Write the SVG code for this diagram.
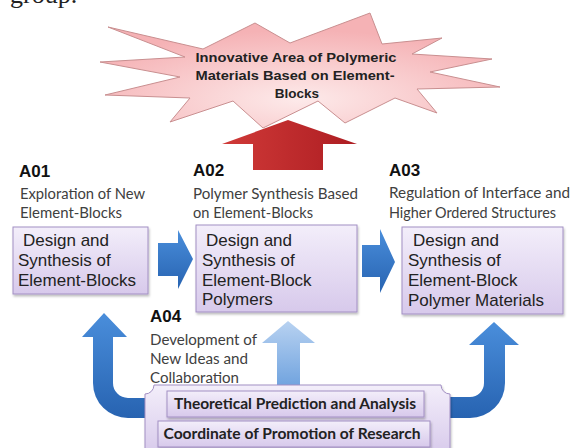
<svg xmlns="http://www.w3.org/2000/svg" width="573" height="448" viewBox="0 0 573 448">
<style>
.lab{font-family:"Liberation Sans",Arial,sans-serif;font-weight:bold;font-size:17px;fill:#111}
.sub{font-family:Lato,"Liberation Sans",sans-serif;font-size:14.5px;fill:#404040}
.bx{font-family:"Liberation Sans",Arial,sans-serif;font-size:17px;fill:#222}
.star{font-family:"Liberation Sans",Arial,sans-serif;font-weight:bold;font-size:13.5px;fill:#222}
.bb{font-family:Lato,"Liberation Sans",sans-serif;font-weight:bold;font-size:15.5px;fill:#222}
.box{fill:url(#lav);stroke:#a28fc3;stroke-width:1;filter:url(#sh)}
.blue{fill:url(#blu)}
</style>
<defs>
<linearGradient id="lav" x1="0" y1="0" x2="0" y2="1"><stop offset="0" stop-color="#f3eefa"/><stop offset="1" stop-color="#d7c9eb"/></linearGradient>
<linearGradient id="blu" x1="0" y1="0" x2="0" y2="1"><stop offset="0" stop-color="#4a8edb"/><stop offset="1" stop-color="#2763b1"/></linearGradient>
<linearGradient id="lblu" x1="0" y1="0" x2="0" y2="1"><stop offset="0" stop-color="#b8d2f1"/><stop offset="1" stop-color="#6a9fdd"/></linearGradient>
<linearGradient id="red" x1="0" y1="0" x2="1" y2="0"><stop offset="0" stop-color="#d03a38"/><stop offset="1" stop-color="#ad1d22"/></linearGradient>
<radialGradient id="pink" cx="0.5" cy="0.75" r="0.6"><stop offset="0" stop-color="#fdeaea"/><stop offset="1" stop-color="#f5b2b5"/></radialGradient>
<filter id="sh" x="-10%" y="-10%" width="120%" height="130%"><feDropShadow dx="1" dy="2" stdDeviation="1.2" flood-color="#000" flood-opacity="0.25"/></filter>
</defs>
<rect width="573" height="448" fill="#fff"/>
<text x="10" y="3" font-family="Liberation Serif,serif" font-size="26" fill="#222">group.</text>

<g id="star">
<polygon points="108,27 203,49 255,23 290,43 370,13 382,44 442,38 412,54 492,59 430,72 500,87 417,89 437,113 395,98 345,123 318,101 263,128 233,101 170,122 190,98 105,95 180,77 100,62 185,57" fill="url(#pink)" stroke="#c98f90" stroke-width="1"/>
<text class="star" x="296" y="62" text-anchor="middle" textLength="201" lengthAdjust="spacingAndGlyphs">Innovative Area of Polymeric</text>
<text class="star" x="295" y="80" text-anchor="middle" textLength="199" lengthAdjust="spacingAndGlyphs">Materials Based on Element-</text>
<text class="star" x="297" y="98" text-anchor="middle">Blocks</text>
</g>

<g id="connectors">
<polygon points="288,120 357,144 323,144 323,170 253,170 253,144 222,144" fill="url(#red)"/>
<polygon class="blue" points="158,243 178,243 178,230 193,259 178,289 178,276 158,276"/>
<polygon class="blue" points="362,245 380,245 380,229 395,262 380,293 380,277 362,277"/>
<path class="blue" d="M160,418 L128,418 A35,35 0 0 1 93,383 L93,337 L82,337 L104,313 L127,337 L113,337 L113,383 A15,15 0 0 0 128,398 L160,398 Z"/>
<path d="M277,392 L277,343 L262,343 L288,321 L315,343 L300,343 L300,392 Z" fill="url(#lblu)"/>
<path class="blue" d="M435,418 L470,418 A35,35 0 0 0 505,383 L505,345 L519,345 L494,322 L469,345 L484,345 L484,383 A14,14 0 0 1 470,397 L435,397 Z"/>
</g>

<g id="A01">
<text class="lab" x="19" y="177">A01</text>
<text class="sub" x="20" y="199" textLength="125" lengthAdjust="spacingAndGlyphs">Exploration of New</text>
<text class="sub" x="20" y="218" textLength="102" lengthAdjust="spacingAndGlyphs">Element-Blocks</text>
<rect class="box" x="13" y="227" width="135" height="67"/>
<text class="bx" x="23" y="246">Design and</text>
<text class="bx" x="18" y="266">Synthesis of</text>
<text class="bx" x="18" y="286">Element-Blocks</text>
</g>

<g id="A02">
<text class="lab" x="193" y="176">A02</text>
<text class="sub" x="193" y="199" textLength="165" lengthAdjust="spacingAndGlyphs">Polymer Synthesis Based</text>
<text class="sub" x="193" y="218" textLength="120" lengthAdjust="spacingAndGlyphs">on Element-Blocks</text>
<rect class="box" x="196" y="225" width="161" height="87"/>
<text class="bx" x="206" y="246">Design and</text>
<text class="bx" x="202" y="266">Synthesis of</text>
<text class="bx" x="202" y="286">Element-Block</text>
<text class="bx" x="202" y="305">Polymers</text>
</g>

<g id="A03">
<text class="lab" x="389" y="176">A03</text>
<text class="sub" x="389" y="198" textLength="181" lengthAdjust="spacingAndGlyphs">Regulation of Interface and</text>
<text class="sub" x="389" y="218" textLength="167" lengthAdjust="spacingAndGlyphs">Higher Ordered Structures</text>
<rect class="box" x="402" y="227" width="161" height="87"/>
<text class="bx" x="413" y="246">Design and</text>
<text class="bx" x="408" y="266">Synthesis of</text>
<text class="bx" x="408" y="286">Element-Block</text>
<text class="bx" x="408" y="306">Polymer Materials</text>
</g>

<g id="A04">
<text class="lab" x="150" y="322">A04</text>
<text class="sub" x="150" y="345" textLength="107" lengthAdjust="spacingAndGlyphs">Development of</text>
<text class="sub" x="150" y="364" textLength="98" lengthAdjust="spacingAndGlyphs">New Ideas and</text>
<text class="sub" x="150" y="383" textLength="89" lengthAdjust="spacingAndGlyphs">Collaboration</text>
<path class="box" d="M154,385 L441,385 A9,9 0 0 0 450,394 L450,456 L145,456 L145,394 A9,9 0 0 0 154,385 Z"/>
<rect class="box" x="167" y="391" width="257" height="26"/>
<text class="bb" x="295" y="409" text-anchor="middle" textLength="242" lengthAdjust="spacingAndGlyphs">Theoretical Prediction and Analysis</text>
<rect class="box" x="158" y="421" width="272" height="26"/>
<text class="bb" x="292" y="439" text-anchor="middle" textLength="257" lengthAdjust="spacingAndGlyphs">Coordinate of Promotion of Research</text>
</g>
</svg>
